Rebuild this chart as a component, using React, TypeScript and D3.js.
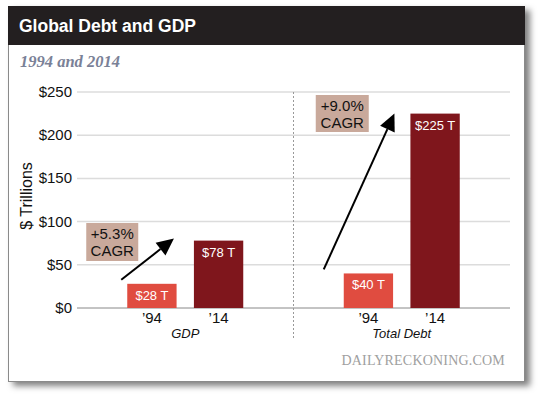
import React from "react";
import * as d3 from "d3";

// chart values ($ trillions)
const categories = ["GDP", "Total Debt"];
const years = ["\u201994", "\u201914"];
const values1994 = [28, 40];
const values2014 = [78, 225];
const barLabels1994 = ["$28 T", "$40 T"];
const barLabels2014 = ["$78 T", "$225 T"];
const cagrLabels = ["+5.3%", "+9.0%"];
const yTicks = [0, 50, 100, 150, 200, 250];

const W = 540;
const H = 394;
const plot = { left: 77, right: 510, top: 92, bottom: 308 };

const font = "'Liberation Sans', Arial, Helvetica, sans-serif";
const serif = "'Liberation Serif', 'Times New Roman', serif";

const color94 = "#e04c40";
const color14 = "#7f161c";
const boxColor = "#c9a99b";

// annotation layout per category (pixel offsets from the '94 bar)
const notes = [
  { box: [-41, 11], boxTop: 223, boxH: 38, tailDx: -6, tipDx: -20, tipDy: -2 },
  { box: [-28, 25], boxTop: 95, boxH: 37, tailDx: -20, tipDx: -16, tipDy: 0 },
];

export default function App() {
  const x0 = d3.scaleBand().domain(categories).range([plot.left, plot.right]);
  const x1 = d3.scaleBand().domain(years).range([0, 116]).paddingInner(0.26);
  const y = d3.scaleLinear().domain([0, 250]).range([plot.bottom, plot.top]);

  const barX = (ci: number, yi: number) =>
    x0(categories[ci])! + x0.bandwidth() / 2 - 58 + x1(years[yi])!;
  const bw = x1.bandwidth();

  const arrow = (x1p: number, y1p: number, x2p: number, y2p: number) => {
    const ang = Math.atan2(y2p - y1p, x2p - x1p);
    const len = 17;
    const half = 8;
    const bx = x2p - len * Math.cos(ang);
    const by = y2p - len * Math.sin(ang);
    const px = -Math.sin(ang) * half;
    const py = Math.cos(ang) * half;
    const head = d3.path();
    head.moveTo(x2p, y2p);
    head.lineTo(bx + px, by + py);
    head.lineTo(bx - px, by - py);
    head.closePath();
    return (
      <g>
        <line x1={x1p} y1={y1p} x2={bx} y2={by} stroke="#000" strokeWidth={2} />
        <path d={head.toString()} fill="#000" />
      </g>
    );
  };

  return (
    <svg
      width={W}
      height={H}
      style={{ position: "absolute", left: 0, top: 0 }}
      xmlns="http://www.w3.org/2000/svg"
    >
      <defs>
        <filter id="shadow" x="-5%" y="-5%" width="115%" height="115%">
          <feDropShadow dx="5" dy="4" stdDeviation="3" floodColor="#000" floodOpacity="0.5" />
        </filter>
      </defs>
      <rect x={0} y={0} width={W} height={H} fill="#fff" />
      {/* frame */}
      <rect x={8.5} y={6.5} width={516} height={375} fill="#fff" stroke="#8a8a8a" strokeWidth={1} filter="url(#shadow)" />
      <rect x={8} y={6} width={517} height={39} fill="#231f20" />
      <text x={19} y={32} fill="#fff" fontFamily={font} fontWeight="bold" fontSize={17.5}>
        Global Debt and GDP
      </text>
      <text x={20} y={67} fill="#7a8197" fontFamily={serif} fontWeight="bold" fontStyle="italic" fontSize={16.5}>
        1994 and 2014
      </text>

      {/* grid */}
      {yTicks.map((t) => (
        <g key={t}>
          <line
            x1={plot.left}
            x2={plot.right}
            y1={y(t)}
            y2={y(t)}
            stroke={t === 0 ? "#888" : "#dcdcdc"}
            strokeWidth={t === 0 ? 1 : 1.5}
          />
          <text x={72} y={y(t) + 5} textAnchor="end" fontFamily={font} fontSize={15} fill="#111">
            {`$${t}`}
          </text>
        </g>
      ))}
      <text
        transform={`translate(32,${(plot.top + plot.bottom) / 2 - 4}) rotate(-90)`}
        textAnchor="middle"
        fontFamily={font}
        fontSize={16}
        fill="#111"
      >
        $ Trillions
      </text>

      {/* divider */}
      <line
        x1={x0(categories[1])!}
        x2={x0(categories[1])!}
        y1={plot.top}
        y2={340}
        stroke="#999"
        strokeWidth={1}
        strokeDasharray="2,2"
      />

      {/* bars */}
      {categories.map((c, ci) => {
        const vals = [values1994[ci], values2014[ci]];
        const labels = [barLabels1994[ci], barLabels2014[ci]];
        const n = notes[ci];
        const bx94 = barX(ci, 0);
        const bx14 = barX(ci, 1);
        return (
          <g key={c}>
            {vals.map((v, yi) => {
              const bx = barX(ci, yi);
              return (
                <g key={yi}>
                  <rect x={bx} y={y(v)} width={bw} height={y(0) - y(v)} fill={yi === 0 ? color94 : color14} />
                  <text x={bx + bw / 2} y={y(v) + 16} textAnchor="middle" fontFamily={font} fontSize={13} fill="#fff">
                    {labels[yi]}
                  </text>
                  <text x={bx + bw / 2} y={323} textAnchor="middle" fontFamily={font} fontSize={15} fill="#111">
                    {years[yi]}
                  </text>
                </g>
              );
            })}
            <text
              x={x0(c)! + x0.bandwidth() / 2}
              y={338}
              textAnchor="middle"
              fontFamily={font}
              fontStyle="italic"
              fontSize={13}
              fill="#111"
            >
              {c}
            </text>
            {/* CAGR annotation */}
            <rect x={bx94 + n.box[0]} y={n.boxTop} width={n.box[1] - n.box[0]} height={n.boxH} fill={boxColor} />
            <text
              x={bx94 + (n.box[0] + n.box[1]) / 2}
              y={n.boxTop + 16}
              textAnchor="middle"
              fontFamily={font}
              fontSize={15}
              fill="#111"
            >
              {cagrLabels[ci]}
            </text>
            <text
              x={bx94 + (n.box[0] + n.box[1]) / 2}
              y={n.boxTop + 33}
              textAnchor="middle"
              fontFamily={font}
              fontSize={15}
              fill="#111"
            >
              CAGR
            </text>
            {arrow(bx94 + n.tailDx, y(vals[0]) - 4, bx14 + n.tipDx, y(vals[1]) + n.tipDy)}
          </g>
        );
      })}

      <text x={505} y={365} textAnchor="end" fontFamily={serif} fontSize={14} letterSpacing={0.2} fill="#a0a0a0">
        DAILYRECKONING.COM
      </text>
    </svg>
  );
}
